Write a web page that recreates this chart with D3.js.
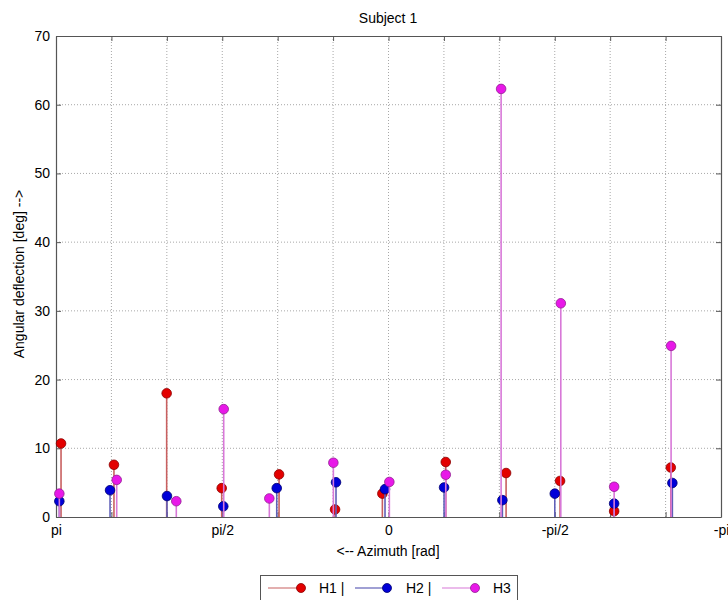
<!DOCTYPE html>
<html>
<head>
<meta charset="utf-8">
<script src="https://cdn.jsdelivr.net/npm/d3@7"></script>
<style>
  html, body { margin: 0; padding: 0; background: #fff; }
  svg { display: block; font-family: "Liberation Sans", Arial, sans-serif; }
</style>
</head>
<body>
<svg id="chart" width="728" height="600"></svg>
<script>
// Data (azimuth in radians, deflection in degrees)
const seriesNames = ["H1", "H2", "H3"];
const h1Azimuth = [3.094, 2.594, 2.096, 1.576, 1.034, 0.505, 0.058, -0.541, -1.111, -1.621, -2.132, -2.667];
const h1Values  = [10.7, 7.6, 18.0, 4.2, 6.2, 1.1, 3.4, 8.0, 6.4, 5.25, 0.85, 7.2];
const h2Azimuth = [3.110, 2.631, 2.093, 1.561, 1.056, 0.496, 0.033, -0.525, -1.076, -1.571, -2.132, -2.682];
const h2Values  = [2.3, 3.9, 3.05, 1.55, 4.2, 5.05, 4.05, 4.3, 2.45, 3.4, 1.95, 4.95];
const h3Azimuth = [3.110, 2.568, 2.005, 1.557, 1.126, 0.521, -0.008, -0.541, -1.064, -1.628, -2.132, -2.670];
const h3Values  = [3.4, 5.4, 2.3, 15.7, 2.7, 7.9, 5.1, 6.15, 62.3, 31.1, 4.4, 24.9];
const xTickValues = [Math.PI, Math.PI/2, 0, -Math.PI/2, -Math.PI];
const xTickLabels = ["pi", "pi/2", "0", "-pi/2", "-pi"];
const xGridValues = d3.range(13).map(i => Math.PI - i * Math.PI / 6);
const yTickValues = [0, 10, 20, 30, 40, 50, 60, 70];

const series = [
  { name: seriesNames[0], az: h1Azimuth, val: h1Values, stem: "#c86060", fill: "#e30000", edge: "#8a0000" },
  { name: seriesNames[1], az: h2Azimuth, val: h2Values, stem: "#6060b8", fill: "#0000d8", edge: "#000070" },
  { name: seriesNames[2], az: h3Azimuth, val: h3Values, stem: "#d878d8", fill: "#e818e8", edge: "#902090" }
];

const svg = d3.select("#chart");
const L = 56, R = 721, T = 36, B = 517;
const x = d3.scaleLinear().domain([Math.PI, -Math.PI]).range([L, R]);
const y = d3.scaleLinear().domain([0, 70]).range([B, T]);

// Grid
const grid = svg.append("g");
grid.selectAll("line.vg").data(xGridValues.slice(1, -1)).enter().append("line")
  .attr("x1", d => x(d)).attr("x2", d => x(d)).attr("y1", T).attr("y2", B)
  .attr("stroke", "#a8a8a8").attr("stroke-width", 1).attr("stroke-dasharray", "1,2");
grid.selectAll("line.hg").data(yTickValues.slice(1, -1)).enter().append("line")
  .attr("x1", L).attr("x2", R).attr("y1", d => y(d)).attr("y2", d => y(d))
  .attr("stroke", "#a8a8a8").attr("stroke-width", 1).attr("stroke-dasharray", "1,2");

// Axes
const axisColor = "#555";
const gL = svg.append("g").attr("transform", `translate(${L},0)`)
  .call(d3.axisLeft(y).tickValues(yTickValues).tickSizeInner(-5).tickSizeOuter(0).tickPadding(6));
const gR = svg.append("g").attr("transform", `translate(${R},0)`)
  .call(d3.axisRight(y).tickValues(yTickValues).tickSizeInner(-5).tickSizeOuter(0).tickFormat(""));
const gB = svg.append("g").attr("transform", `translate(0,${B})`)
  .call(d3.axisBottom(x).tickValues(xGridValues).tickSizeInner(-5).tickSizeOuter(0).tickPadding(8)
    .tickFormat(d => {
      const i = xTickValues.findIndex(v => Math.abs(v - d) < 1e-9);
      return i >= 0 ? xTickLabels[i] : "";
    }));
const gT = svg.append("g").attr("transform", `translate(0,${T})`)
  .call(d3.axisTop(x).tickValues(xGridValues).tickSizeInner(-5).tickSizeOuter(0).tickFormat(""));
[gL, gR, gB, gT].forEach(g => {
  g.select(".domain").attr("stroke", axisColor).attr("stroke-width", 1.2);
  g.selectAll(".tick line").attr("stroke", axisColor);
  g.selectAll(".tick text").attr("fill", "#000").style("font-size", "14px")
    .style("font-family", "'Liberation Sans', Arial, sans-serif");
});

// Stems + markers
series.forEach(s => {
  const data = s.az.map((a, i) => ({ a, v: s.val[i] }));
  const g = svg.append("g");
  g.selectAll("line").data(data).enter().append("line")
    .attr("x1", d => x(d.a)).attr("x2", d => x(d.a))
    .attr("y1", y(0)).attr("y2", d => y(d.v))
    .attr("stroke", s.stem).attr("stroke-width", 1.6);
  g.selectAll("circle").data(data).enter().append("circle")
    .attr("cx", d => x(d.a)).attr("cy", d => y(d.v)).attr("r", 4.8)
    .attr("fill", s.fill).attr("stroke", s.edge).attr("stroke-width", 0.8);
});

// Title & labels
svg.append("text").attr("x", 388).attr("y", 23).attr("text-anchor", "middle")
  .style("font-size", "14px").text("Subject 1");
svg.append("text").attr("x", 388).attr("y", 556).attr("text-anchor", "middle")
  .style("font-size", "14px").text("<--  Azimuth [rad]");
svg.append("text").attr("transform", "translate(24,274) rotate(-90)").attr("text-anchor", "middle")
  .style("font-size", "14px").text("Angular deflection [deg]  -->");

// Legend
const lg = svg.append("g");
lg.append("rect").attr("x", 260.5).attr("y", 575.5).attr("width", 257).attr("height", 40)
  .attr("fill", "#fff").attr("stroke", "#555").attr("stroke-width", 1);
const legendItems = [
  { s: series[0], x1: 268, x2: 301, tx: 319, label: seriesNames[0] + " |" },
  { s: series[1], x1: 355, x2: 387, tx: 406, label: seriesNames[1] + " |" },
  { s: series[2], x1: 442, x2: 475, tx: 493, label: seriesNames[2] }
];
legendItems.forEach(it => {
  lg.append("line").attr("x1", it.x1).attr("x2", it.x2).attr("y1", 588).attr("y2", 588)
    .attr("stroke", it.s.stem).attr("stroke-width", 1.2);
  lg.append("circle").attr("cx", it.x2).attr("cy", 588).attr("r", 4.5)
    .attr("fill", it.s.fill).attr("stroke", it.s.edge).attr("stroke-width", 0.8);
  lg.append("text").attr("x", it.tx).attr("y", 593).style("font-size", "14px").text(it.label);
});
</script>
</body>
</html>
